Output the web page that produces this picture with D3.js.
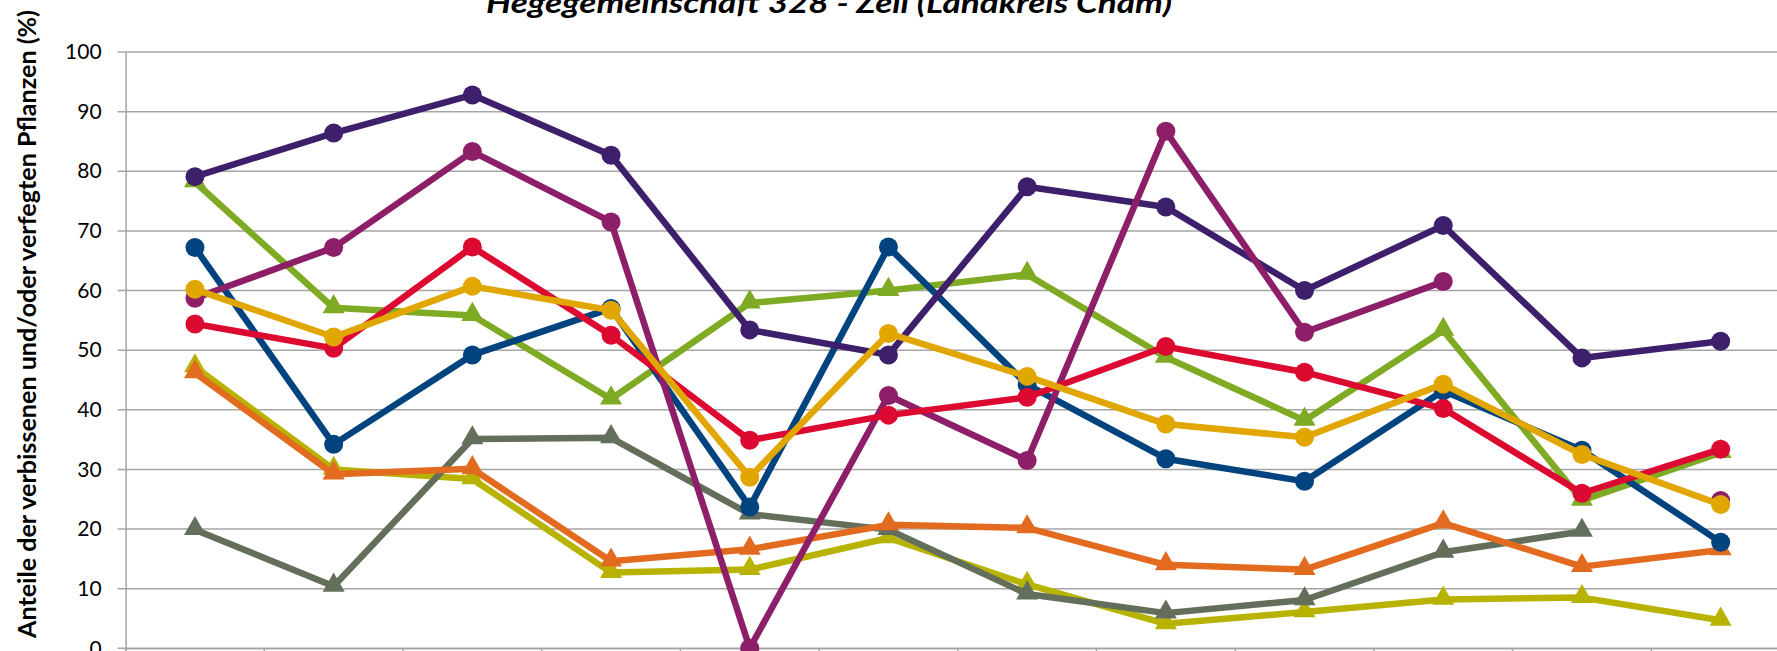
<!DOCTYPE html>
<html>
<head>
<meta charset="utf-8">
<script src="https://cdn.jsdelivr.net/npm/d3@7"></script>
<style>
  body { margin: 0; background: #fff; }
  svg { display: block; }
</style>
</head>
<body>
<div id="chart"></div>
<script>
// category slots (labels fall below the visible crop)
const years = ["1", "2", "3", "4", "5", "6", "7", "8", "9", "10", "11", "12"];
const yTicks = [0, 10, 20, 30, 40, 50, 60, 70, 80, 90, 100];

// circle series
const darkPurple = [79.1, 86.4, 92.8, 82.7, 53.4, 49.2, 77.4, 74.0, 60.0, 70.9, 48.7, 51.5];
const magenta    = [58.7, 67.2, 83.3, 71.5, 0, 42.4, 31.5, 86.7, 53.0, 61.5, null, 24.8];
const red        = [54.4, 50.3, 67.3, 52.5, 34.9, 39.1, 42.1, 50.6, 46.3, 40.2, 26.0, 33.4];
const blue       = [67.2, 34.2, 49.2, 57.0, 23.7, 67.3, 44.2, 31.8, 28.0, 43.2, 33.2, 17.8];
const gold       = [60.2, 52.2, 60.7, 56.7, 28.7, 52.8, 45.6, 37.6, 35.4, 44.3, 32.5, 24.1];

// triangle series
const green      = [78.2, 57.1, 55.8, 41.8, 57.9, 60.0, 62.7, 48.8, 38.2, 53.3, 24.8, 32.8];
const olive      = [47.2, 30.0, 28.4, 12.7, 13.2, 18.5, 10.7, 4.1, 6.1, 8.2, 8.5, 4.7];
const orange     = [46.2, 29.2, 30.1, 14.6, 16.6, 20.7, 20.2, 14.0, 13.2, 21.0, 13.7, 16.5];
const grey       = [19.9, 10.4, 35.1, 35.3, 22.5, 19.9, 9.1, 5.9, 8.1, 16.1, 19.6, null];

const series = [
  { values: olive,      color: "#b8b200", shape: "tri" },
  { values: grey,       color: "#636e5b", shape: "tri" },
  { values: orange,     color: "#e36b1f", shape: "tri" },
  { values: green,      color: "#7faa24", shape: "tri" },
  { values: blue,       color: "#00437f", shape: "circle" },
  { values: darkPurple, color: "#3d1f6b", shape: "circle" },
  { values: magenta,    color: "#8c1f68", shape: "circle" },
  { values: red,        color: "#dc0a30", shape: "circle" },
  { values: gold,       color: "#e1a600", shape: "circle" }
];

const svgWidth = 1777;
const svgHeight = 651;

const plotLeft = 125.6;
const band = 138.7;
const plotTop = 52;
const plotBottom = 648.3;

const svg = d3.select("#chart")
  .append("svg")
  .attr("width", svgWidth)
  .attr("height", svgHeight)
  .style("overflow", "hidden");

const x = d3.scaleBand()
  .domain(years)
  .range([plotLeft, plotLeft + band * years.length])
  .paddingInner(0).paddingOuter(0);

const y = d3.scaleLinear()
  .domain([0, 100])
  .range([plotBottom, plotTop]);

const cx = i => x(years[i]) + x.bandwidth() / 2;

// gridlines
svg.append("g")
  .selectAll("line")
  .data(yTicks)
  .join("line")
  .attr("x1", plotLeft - 8)
  .attr("x2", svgWidth)
  .attr("y1", d => y(d))
  .attr("y2", d => y(d))
  .attr("stroke", "#a5a5a5")
  .attr("stroke-width", 1.5);

// y axis
const leftAxis = d3.axisLeft(y).tickValues(yTicks).tickSize(0).tickPadding(24);
const yAxis = svg.append("g")
  .attr("transform", `translate(${plotLeft},0)`)
  .call(leftAxis);
yAxis.select(".domain").attr("stroke", "#a5a5a5").attr("stroke-width", 1.5);
yAxis.selectAll("text")
  .attr("font-family", "Lato, 'Open Sans', sans-serif")
  .attr("font-size", 21)
  .attr("fill", "#000");

// x axis
const bottomAxis = d3.axisBottom(x).tickSize(6).tickFormat("");
const xAxis = svg.append("g")
  .attr("transform", `translate(0,${plotBottom})`)
  .call(bottomAxis);
xAxis.select(".domain").attr("stroke", "#a5a5a5").attr("stroke-width", 1.5);
xAxis.selectAll(".tick").remove();
xAxis.selectAll("line.sep")
  .data(d3.range(years.length + 1))
  .join("line")
  .attr("class", "sep")
  .attr("x1", i => plotLeft + i * band)
  .attr("x2", i => plotLeft + i * band)
  .attr("y1", 0)
  .attr("y2", 6)
  .attr("stroke", "#a5a5a5")
  .attr("stroke-width", 1.5);

// lines + markers
const line = d3.line()
  .defined(d => d != null)
  .x((d, i) => cx(i))
  .y(d => y(d));

const tri = d3.symbol().type(d3.symbolTriangle).size(210);

series.forEach(s => {
  const g = svg.append("g");
  g.append("path")
    .datum(s.values)
    .attr("d", line)
    .attr("fill", "none")
    .attr("stroke", s.color)
    .attr("stroke-width", 6.5)
    .attr("stroke-linejoin", "round");

  const pts = s.values.map((v, i) => ({ v, i })).filter(p => p.v != null);
  if (s.shape === "circle") {
    g.selectAll("circle")
      .data(pts)
      .join("circle")
      .attr("cx", p => cx(p.i))
      .attr("cy", p => y(p.v))
      .attr("r", 9.5)
      .attr("fill", s.color);
  } else {
    g.selectAll("path.mark")
      .data(pts)
      .join("path")
      .attr("class", "mark")
      .attr("d", tri)
      .attr("transform", p => `translate(${cx(p.i)},${y(p.v) - 1})`)
      .attr("fill", s.color);
  }
});

// title (top part cut off in the original crop)
svg.append("text")
  .attr("x", 486)
  .attr("y", 13)
  .attr("textLength", 686)
  .attr("lengthAdjust", "spacingAndGlyphs")
  .attr("font-family", "Lato, 'Open Sans', sans-serif")
  .attr("font-size", 28)
  .attr("font-weight", "bold")
  .attr("font-style", "italic")
  .attr("fill", "#000")
  .text("Hegegemeinschaft 328 - Zell (Landkreis Cham)");

// y axis title
svg.append("text")
  .attr("transform", "translate(36,324) rotate(-90)")
  .attr("text-anchor", "middle")
  .attr("textLength", 628)
  .attr("lengthAdjust", "spacingAndGlyphs")
  .attr("font-family", "Lato, 'Open Sans', sans-serif")
  .attr("font-size", 24)
  .attr("font-weight", "bold")
  .attr("fill", "#000")
  .text("Anteile der verbissenen und/oder verfegten Pflanzen (%)");
</script>
</body>
</html>
